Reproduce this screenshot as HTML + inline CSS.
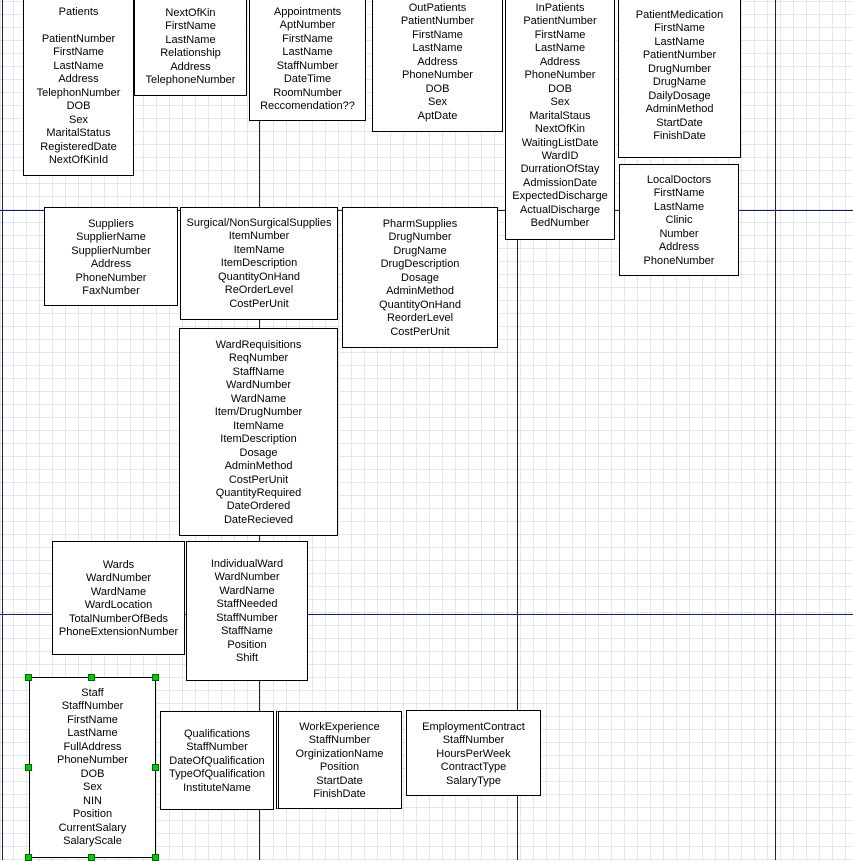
<!DOCTYPE html>
<html><head><meta charset="utf-8"><style>
body{margin:0;width:853px;height:860px;overflow:hidden;position:relative;background:#fff;
background-image:repeating-linear-gradient(90deg,rgba(200,210,210,.5) 0 1px,transparent 1px 13px),repeating-linear-gradient(0deg,rgba(200,210,210,.5) 0 1px,transparent 1px 13px);
font-family:"Liberation Sans",sans-serif;font-size:11px;color:#000}
.b{position:absolute;background:#fff;border:1px solid #000;box-sizing:border-box}
.t{position:absolute;text-align:center;line-height:13.45px;white-space:nowrap;margin-top:2px}
.l{position:absolute;background:#1a1a6e}
.g{position:absolute;width:7px;height:7px;background:#0c0;border:1px solid #060;box-sizing:border-box}
</style></head><body>
<div class="l" style="left:2px;top:0;width:1px;height:860px"></div>
<div class="l" style="left:259px;top:120px;width:1px;height:740px"></div>
<div class="l" style="left:517px;top:239px;width:1px;height:621px"></div>
<div class="l" style="left:775px;top:0;width:1px;height:860px"></div>
<div class="l" style="left:0;top:210px;width:853px;height:1px"></div>
<div class="l" style="left:0;top:614px;width:853px;height:1px"></div>

<div class="b" style="left:23px;top:-2px;width:111px;height:178px"></div>
<div class="t" style="left:23px;width:111px;top:4px">Patients<br><br>PatientNumber<br>FirstName<br>LastName<br>Address<br>TelephonNumber<br>DOB<br>Sex<br>MaritalStatus<br>RegisteredDate<br>NextOfKinId</div>

<div class="b" style="left:134px;top:-2px;width:113px;height:98px"></div>
<div class="t" style="left:134px;width:113px;top:5px">NextOfKin<br>FirstName<br>LastName<br>Relationship<br>Address<br>TelephoneNumber</div>

<div class="b" style="left:249px;top:-2px;width:117px;height:123px"></div>
<div class="t" style="left:249px;width:117px;top:4px">Appointments<br>AptNumber<br>FirstName<br>LastName<br>StaffNumber<br>DateTime<br>RoomNumber<br>Reccomendation??</div>

<div class="b" style="left:372px;top:-2px;width:131px;height:134px"></div>
<div class="t" style="left:372px;width:131px;top:0px">OutPatients<br>PatientNumber<br>FirstName<br>LastName<br>Address<br>PhoneNumber<br>DOB<br>Sex<br>AptDate</div>

<div class="b" style="left:505px;top:-2px;width:110px;height:242px"></div>
<div class="t" style="left:505px;width:110px;top:0px">InPatients<br>PatientNumber<br>FirstName<br>LastName<br>Address<br>PhoneNumber<br>DOB<br>Sex<br>MaritalStaus<br>NextOfKin<br>WaitingListDate<br>WardID<br>DurrationOfStay<br>AdmissionDate<br>ExpectedDischarge<br>ActualDischarge<br>BedNumber</div>

<div class="b" style="left:618px;top:-2px;width:123px;height:160px"></div>
<div class="t" style="left:618px;width:123px;top:7px">PatientMedication<br>FirstName<br>LastName<br>PatientNumber<br>DrugNumber<br>DrugName<br>DailyDosage<br>AdminMethod<br>StartDate<br>FinishDate</div>

<div class="b" style="left:619px;top:164px;width:120px;height:112px"></div>
<div class="t" style="left:619px;width:120px;top:172px">LocalDoctors<br>FirstName<br>LastName<br>Clinic<br>Number<br>Address<br>PhoneNumber</div>

<div class="b" style="left:44px;top:207px;width:134px;height:99px"></div>
<div class="t" style="left:44px;width:134px;top:216px">Suppliers<br>SupplierName<br>SupplierNumber<br>Address<br>PhoneNumber<br>FaxNumber</div>

<div class="b" style="left:180px;top:207px;width:158px;height:113px"></div>
<div class="t" style="left:180px;width:158px;top:215px">Surgical/NonSurgicalSupplies<br>ItemNumber<br>ItemName<br>ItemDescription<br>QuantityOnHand<br>ReOrderLevel<br>CostPerUnit</div>

<div class="b" style="left:342px;top:207px;width:156px;height:141px"></div>
<div class="t" style="left:342px;width:156px;top:216px">PharmSupplies<br>DrugNumber<br>DrugName<br>DrugDescription<br>Dosage<br>AdminMethod<br>QuantityOnHand<br>ReorderLevel<br>CostPerUnit</div>

<div class="b" style="left:179px;top:328px;width:159px;height:208px"></div>
<div class="t" style="left:179px;width:159px;top:337px">WardRequisitions<br>ReqNumber<br>StaffName<br>WardNumber<br>WardName<br>Item/DrugNumber<br>ItemName<br>ItemDescription<br>Dosage<br>AdminMethod<br>CostPerUnit<br>QuantityRequired<br>DateOrdered<br>DateRecieved</div>

<div class="b" style="left:52px;top:541px;width:133px;height:114px"></div>
<div class="t" style="left:52px;width:133px;top:557px">Wards<br>WardNumber<br>WardName<br>WardLocation<br>TotalNumberOfBeds<br>PhoneExtensionNumber</div>

<div class="b" style="left:186px;top:541px;width:122px;height:140px"></div>
<div class="t" style="left:186px;width:122px;top:556px">IndividualWard<br>WardNumber<br>WardName<br>StaffNeeded<br>StaffNumber<br>StaffName<br>Position<br>Shift</div>

<div class="b" style="left:29px;top:677px;width:127px;height:181px"></div>
<div class="t" style="left:29px;width:127px;top:685px">Staff<br>StaffNumber<br>FirstName<br>LastName<br>FullAddress<br>PhoneNumber<br>DOB<br>Sex<br>NIN<br>Position<br>CurrentSalary<br>SalaryScale</div>
<div class="g" style="left:25px;top:674px"></div><div class="g" style="left:88px;top:674px"></div><div class="g" style="left:152px;top:674px"></div>
<div class="g" style="left:25px;top:764px"></div><div class="g" style="left:152px;top:764px"></div>
<div class="g" style="left:25px;top:854px"></div><div class="g" style="left:88px;top:854px"></div><div class="g" style="left:152px;top:854px"></div>

<div class="b" style="left:160px;top:711px;width:114px;height:99px"></div>
<div class="t" style="left:160px;width:114px;top:726px">Qualifications<br>StaffNumber<br>DateOfQualification<br>TypeOfQualification<br>InstituteName</div>

<div class="b" style="left:276px;top:711px;width:126px;height:98px;border-left:3px double #000"></div>
<div class="t" style="left:277px;width:125px;top:719px">WorkExperience<br>StaffNumber<br>OrginizationName<br>Position<br>StartDate<br>FinishDate</div>

<div class="b" style="left:406px;top:710px;width:135px;height:86px"></div>
<div class="t" style="left:406px;width:135px;top:719px">EmploymentContract<br>StaffNumber<br>HoursPerWeek<br>ContractType<br>SalaryType</div>
</body></html>
